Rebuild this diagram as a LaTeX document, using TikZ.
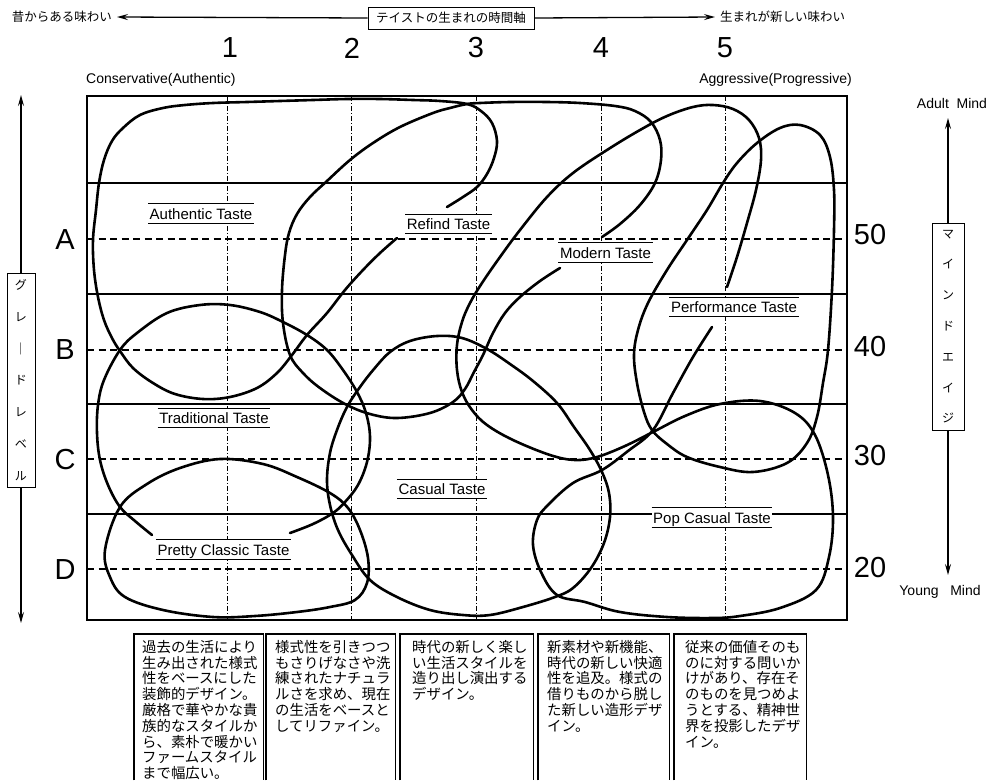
\documentclass[tikz,border=0pt]{standalone}
\usepackage{fontspec}
\setmainfont{Liberation Sans}
\newfontfamily\jp{Noto Sans CJK JP}
\usetikzlibrary{arrows.meta}
\begin{document}
\begin{tikzpicture}[x=1pt,y=-1pt,
  curve/.style={line width=2.6pt,line cap=round,line join=round},
  framestyle/.style={line width=1.9pt},
  solidrow/.style={line width=1.4pt},
  dashrow/.style={line width=1.4pt,dash pattern=on 7pt off 4.5pt},
  dashcol/.style={line width=0.8pt,dash pattern=on 5pt off 2pt on 1pt off 2pt},
  tlabel/.style={font=\fontsize{15}{15}\selectfont,text height=11pt,text depth=0pt,inner xsep=1.5pt,inner ysep=4pt,fill=white},
  tline/.style={line width=1pt},
  bignum/.style={font=\fontsize{29}{29}\selectfont,inner sep=0pt},
  arr/.style={line width=1.3pt,-{Stealth[length=11pt,width=6pt,inset=4pt]}},
  jptext/.style={font=\jp\fontsize{12.5}{12.5}\selectfont},
  vbox/.style={draw,line width=1pt,fill=white,align=center,inner sep=0pt},
  descbox/.style={draw=none,anchor=north west,inner sep=0pt,minimum height=146pt},
  desc/.style={font=\jp\fontsize{14.4}{15.8}\selectfont,align=left,anchor=north west,inner sep=0pt},
  small/.style={font=\fontsize{14}{14}\selectfont,inner sep=1pt}]
\useasboundingbox (0,0) rectangle (994,780);

% ---- top axis ----
\node[jptext,draw,line width=1pt,minimum width=166pt,minimum height=22pt,inner sep=1pt] (axis) at (451,18) {テイストの生まれの時間軸};
\node[jptext,anchor=east,inner xsep=5pt] (old) at (117,17) {昔からある味わい};
\node[jptext,anchor=west,inner xsep=5pt] (new) at (715,17) {生まれが新しい味わい};
\draw[arr] (axis.west) -- (old.east);
\draw[arr] (axis.east) -- (new.west);

% ---- column numbers ----
\node[bignum] (n1) at (230,48) {1};
\node[bignum] (n2) at (352,48) {2};
\node[bignum] (n3) at (476,48) {3};
\node[bignum] (n4) at (601,48) {4};
\node[bignum] (n5) at (725,48) {5};

\node[small,anchor=west] (cons) at (85,80) {Conservative(Authentic)};
\node[small,anchor=east] (aggr) at (853,80) {Aggressive(Progressive)};

% ---- grid ----
\foreach \y in {183,294,404,514} \draw[solidrow] (87,\y) -- (847,\y);
\foreach \y in {239,350,459,569} \draw[dashrow] (87,\y) -- (847,\y);
\foreach \x in {227,351,476,601,725} \draw[dashcol] (\x,96) -- (\x,620);
\draw[framestyle] (87,96) rectangle (847,620);

% ---- row labels ----
\node[bignum] (rA) at (65,240) {A};
\node[bignum] (rB) at (65,350) {B};
\node[bignum] (rC) at (65,460) {C};
\node[bignum] (rD) at (65,570) {D};
\node[bignum] (a50) at (870,235) {50};
\node[bignum] (a40) at (870,347) {40};
\node[bignum] (a30) at (870,456) {30};
\node[bignum] (a20) at (870,568) {20};

% ---- left vertical axis ----
\node[vbox,font=\jp\fontsize{12}{31.8}\selectfont,minimum width=28pt,minimum height=214pt] (gl) at (21,380) {グ\\レ\\｜\\ド\\レ\\ベ\\ル};
\coordinate (glt) at (21,95);
\coordinate (glb) at (21,623);
\draw[arr] (gl.north) -- (glt);
\draw[arr] (gl.south) -- (glb);

% ---- right vertical axis ----
\node[vbox,font=\jp\fontsize{12}{30.8}\selectfont,minimum width=32pt,minimum height=207pt] (ma) at (948,326.5) {マ\\イ\\ン\\ド\\エ\\イ\\ジ};
\coordinate (mat) at (948,118);
\coordinate (mab) at (948,575);
\draw[arr] (ma.north) -- (mat);
\draw[arr] (ma.south) -- (mab);
\node[small] (adult) at (952,103) {Adult\ \ Mind};
\node[small] (young) at (940,592) {Young\ \ \ Mind};

% ---- taste labels ----
\node[tlabel] (au) at (201,213.5) {Authentic Taste};
\node[tlabel] (re) at (448.5,224) {Refind Taste};
\node[tlabel] (mo) at (605.5,252.5) {Modern Taste};
\node[tlabel] (pe) at (734,307) {Performance Taste};
\node[tlabel] (tr) at (214,418) {Traditional Taste};
\node[tlabel] (ca) at (442,489) {Casual Taste};
\node[tlabel] (pr) at (223.5,549.5) {Pretty Classic Taste};
\node[tlabel] (po) at (712,517.5) {Pop Casual Taste};
\foreach \n in {au,re,mo,pe,tr,ca,pr,po}
  \draw[tline] (\n.north west) -- (\n.north east) (\n.south west) -- (\n.south east);

% ---- hand drawn loops ----
% Refind loop
\draw[curve] plot[smooth,tension=0.6] coordinates {(447,207) (463,197) (477,187) (487,174) (494,158) (497,141) (492,123) (481,111) (467,104) (440,101) (413,100) (380,99) (347,99) (313,100) (280,101) (247,102) (213,103) (185,105) (163,108) (140,115) (123,128) (112,141) (104,160) (99,183) (96,210) (93,240) (94,270) (98,297) (104,320) (112,338) (120,351) (133,368) (153,383) (175,394) (203,399) (230,397) (257,388) (277,373) (292,355) (307,335) (327,313) (345,290) (363,270) (380,253) (397,238)};
% Modern loop
\draw[curve] plot[smooth,tension=0.6] coordinates {(602,237) (620,224) (640,205) (655,183) (661,160) (660,140) (651,122) (635,111) (615,106) (580,103) (547,102) (510,102) (480,103) (467,104) (450,108) (433,113) (400,127) (373,143) (350,160) (327,181) (310,197) (297,214) (289,233) (285,255) (282,290) (283,323) (290,355) (303,373) (320,388) (345,404) (370,414) (397,418) (430,413) (453,402) (465,389) (474,372) (483,355) (493,333) (505,313) (520,297) (540,281) (560,268)};
% Traditional loop
\draw[curve] plot[smooth,tension=0.6] coordinates {(152,535) (135,521) (120,507) (108,485) (100,460) (97,433) (98,405) (104,380) (120,350) (137,333) (167,313) (200,305) (230,305) (260,312) (283,322) (307,335) (327,350) (343,370) (357,392) (366,413) (370,437) (367,462) (358,485) (345,502) (333,513) (313,524) (290,533)};
% Casual loop
\draw[curve] plot[smooth cycle,tension=0.6] coordinates {(327,480) (330,453) (337,430) (347,407) (360,387) (374,369) (390,352) (410,341) (437,336) (462,338) (487,349) (510,364) (533,381) (557,403) (574,427) (590,450) (602,472) (609,493) (610,517) (604,543) (591,568) (573,588) (555,597) (523,607) (490,615) (463,615) (430,610) (397,597) (370,580) (352,555) (338,530) (330,505)};
% Pretty classic loop
\draw[curve] plot[smooth cycle,tension=0.6] coordinates {(120,507) (147,484) (180,468) (220,459) (263,464) (297,477) (330,493) (348,508) (360,530) (368,558) (367,583) (355,600) (330,607) (297,612) (255,616) (213,617) (163,610) (125,597) (110,577) (105,550)};
% Performance / pop casual loop
\draw[curve] plot[smooth,tension=0.6] coordinates {(727,287) (737,257) (747,223) (756,190) (761,160) (759,138) (749,120) (733,109) (713,105) (693,107) (667,116) (640,130) (607,150) (573,173) (547,197) (520,230) (500,257) (482,283) (470,303) (462,322) (457,345) (457,370) (462,392) (472,410) (487,425) (513,440) (550,455) (575,460) (597,457) (625,446) (653,432) (685,416) (720,404) (760,401) (795,413) (815,435) (828,475) (833,517) (829,557) (816,590) (780,608) (740,616) (713,618) (667,617) (620,612) (585,602) (557,595) (541,572) (533,545) (537,520) (548,505) (573,483) (602,470) (628,451) (653,430) (673,393) (693,357) (712,327)};
% Right teardrop loop
\draw[curve] plot[smooth cycle,tension=0.6] coordinates {(652,430) (667,444) (687,457) (720,467) (753,472) (787,463) (807,443) (817,417) (823,383) (828,350) (832,290) (834,230) (834,190) (830,157) (820,135) (800,125) (780,128) (757,143) (737,163) (723,183) (707,210) (687,240) (667,270) (648,303) (638,330) (634,355) (637,383) (644,412)};

% ---- description boxes ----
\node[descbox,minimum width=129pt] (b1) at (134,634) {};
\node[descbox,minimum width=129pt] (b2) at (266,634) {};
\node[descbox,minimum width=133pt] (b3) at (400,634) {};
\node[descbox,minimum width=131pt] (b4) at (538,634) {};
\node[descbox,minimum width=132pt] (b5) at (674,634) {};
\foreach \b in {b1,b2,b3,b4,b5}
  \draw[line width=1.5pt] (\b.south west) -- (\b.north west) -- (\b.north east) -- (\b.south east);
\node[desc] (t1) at (142,640) {過去の生活により\\生み出された様式\\性をベースにした\\装飾的デザイン。\\厳格で華やかな貴\\族的なスタイルか\\ら、素朴で暖かい\\ファームスタイル\\まで幅広い。};
\node[desc] (t2) at (275,640) {様式性を引きつつ\\もさりげなさや洗\\練されたナチュラ\\ルさを求め、現在\\の生活をベースと\\してリファイン。};
\node[desc] (t3) at (412,640) {時代の新しく楽し\\い生活スタイルを\\造り出し演出する\\デザイン。};
\node[desc] (t4) at (547,640) {新素材や新機能、\\時代の新しい快適\\性を追及。様式の\\借りものから脱し\\た新しい造形デザ\\イン。};
\node[desc] (t5) at (685,640) {従来の価値そのも\\のに対する問いか\\けがあり、存在そ\\のものを見つめよ\\うとする、精神世\\界を投影したデザ\\イン。};
\end{tikzpicture}
\end{document}
